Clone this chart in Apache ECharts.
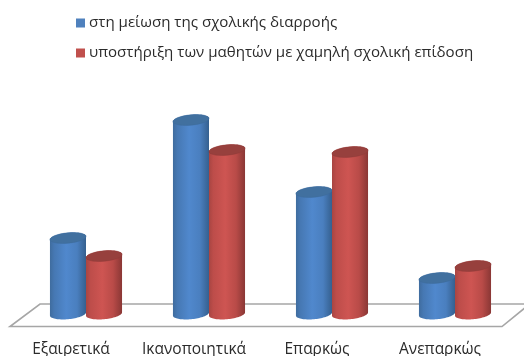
<!DOCTYPE html>
<html><head><meta charset="utf-8">
<style>html,body{margin:0;padding:0;background:#fff}#c{width:524px;height:356px}</style>
<script src="https://cdn.jsdelivr.net/npm/echarts@6/dist/echarts.min.js"></script>
</head><body><div id="c"></div>
<script>
const categories = ['Εξαιρετικά','Ικανοποιητικά','Επαρκώς','Ανεπαρκώς'];
const seriesNames = ['στη μείωση της σχολικής διαρροής','υποστήριξη των μαθητών με χαμηλή σχολική επίδοση'];
const dropoutValues = [19, 48.5, 30.5, 9];
const supportValues = [14.5, 41, 40.5, 12];
const FONT = '"Open Sans","Noto Sans",sans-serif';

function ellipsePts(cx, cy, rx, ry, tilt, from, to) {
  const pts = [];
  for (let i = 0; i <= 40; i++) {
    const a = from + (to - from) * i / 40;
    const x = rx * Math.cos(a), y = ry * Math.sin(a);
    pts.push([cx + x, cy + y + tilt * x / rx]);
  }
  return pts;
}
function cylinder(offsetIdx, stops, capColor, capEdge) {
  return function (params, api) {
    const base = api.coord([api.value(0), 0]);
    const top = api.coord([api.value(0), api.value(1)]);
    const band = api.size([1, 0])[0];
    const rx = band * 0.1465;
    const ry = 5.2, tilt = -1.6;
    const cx = base[0] + (offsetIdx === 0 ? -rx : rx) ;
    const body = ellipsePts(cx, base[1], rx, ry, tilt, 0, Math.PI)
      .concat(ellipsePts(cx, top[1], rx, ry, tilt, Math.PI, 2 * Math.PI));
    const fill = new echarts.graphic.LinearGradient(0, 0, 1, 0, stops);
    return { type: 'group', children: [
      { type: 'polygon', shape: { points: body }, style: { fill: fill } },
      { type: 'polygon', shape: { points: ellipsePts(cx, top[1], rx, ry, tilt, 0, 2 * Math.PI) },
        style: { fill: capColor, stroke: capEdge, lineWidth: 0.5 } }
    ]};
  };
}
const blueStops = [
  {offset:0,color:'#3f6c9e'},{offset:0.12,color:'#4678b3'},{offset:0.45,color:'#5088cd'},
  {offset:0.75,color:'#4a7fbf'},{offset:1,color:'#35608f'}];
const redStops = [
  {offset:0,color:'#a84542'},{offset:0.12,color:'#bd4d4a'},{offset:0.45,color:'#ce5552'},
  {offset:0.75,color:'#b94b48'},{offset:1,color:'#8a3735'}];

const chart = echarts.init(document.getElementById('c'), null, {renderer:'canvas'});
chart.setOption({
  animation: false,
  legend: {
    left: 71, top: 9, orient: 'vertical', itemWidth: 9, itemHeight: 9, itemGap: 12,
    icon: 'rect', selectedMode: false,
    textStyle: { fontFamily: FONT, fontSize: 15.1, color: '#2b2b2b', padding: [0,0,0,-1], lineHeight: 18 },
    data: seriesNames
  },
  grid: { left: 24.5, right: 7.5, top: 74, bottom: 42, outerBoundsMode: 'none' },
  xAxis: { type: 'category', data: categories,
    axisLine: {show:false}, axisTick: {show:false}, splitLine: {show:false},
    axisLabel: { margin: 28, fontFamily: FONT, fontSize: 15.5, color: '#2b2b2b', interval: 0, padding: [0,30,0,0] } },
  yAxis: { type: 'value', min: 0, max: 60, show: false },
  graphic: [{
    type: 'polyline', z: 0, silent: true,
    shape: { points: [[526,304],[40,304],[10,326.5],[502,326.5],[526,307]] },
    style: { stroke: '#a6a6a6', lineWidth: 1.6, fill: null }
  }],
  series: [
    { name: seriesNames[0], type: 'custom', z: 3, itemStyle: {color:'#4f81bd'},
      encode: {x:0,y:1}, data: dropoutValues.map((v,i)=>[i,v]),
      renderItem: cylinder(0, blueStops, '#41709f', '#3d6a9a') },
    { name: seriesNames[1], type: 'custom', z: 4, itemStyle: {color:'#c0504d'},
      encode: {x:0,y:1}, data: supportValues.map((v,i)=>[i,v]),
      renderItem: cylinder(1, redStops, '#97403d', '#8f3b39') }
  ]
});
</script></body></html>
